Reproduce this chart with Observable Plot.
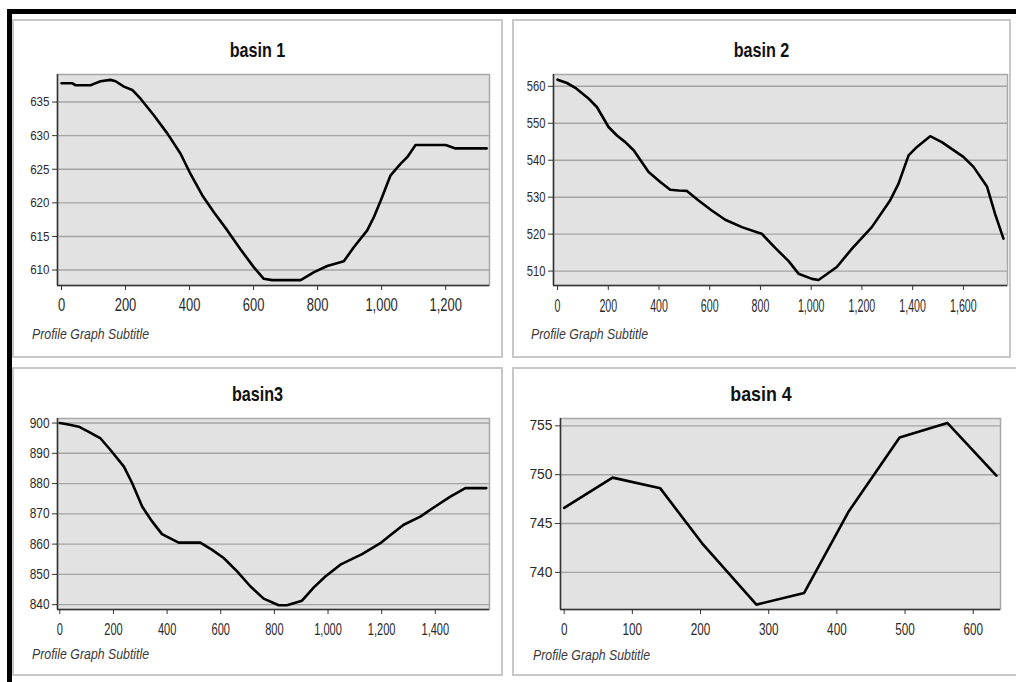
<!DOCTYPE html>
<html>
<head>
<meta charset="utf-8">
<script src="https://cdn.jsdelivr.net/npm/d3@7"></script>
<script src="https://cdn.jsdelivr.net/npm/@observablehq/plot@0.6"></script>
<style>
  html, body { margin: 0; padding: 0; background: #fff; }
  #root { position: relative; width: 1016px; height: 682px; overflow: hidden; background: #fff; }
  .bar { position: absolute; background: #000; }
  .frame { position: absolute; box-sizing: border-box; border: 2px solid #c8c8c8; background: #fff; }
  .title { position: absolute; text-align: center; font-family: "Liberation Sans", Arial, sans-serif;
           font-weight: bold; font-size: 21px; line-height: 21px; color: #111; white-space: nowrap; }
  .sub { position: absolute; font-family: "Liberation Sans", Arial, sans-serif; font-style: italic;
         font-size: 14px; line-height: 14px; color: #3a3a3a; white-space: nowrap; transform-origin: left center; transform: scaleX(0.88); }
  .chart { position: absolute; }
</style>
</head>
<body>
<div id="root">
  <div class="bar" style="left:7px;top:9px;width:1009px;height:5px"></div>
  <div class="bar" style="left:7px;top:9px;width:5px;height:673px"></div>
</div>
<script>
// ---- data (distance along profile, elevation) ----
const basin1Dist = [0,33,44,91,101,122,153,169,195,221,247,289,331,372,403,440,476,518,559,601,632,658,747,789,830,882,913,955,976,997,1028,1059,1080,1106,1200,1231,1328];
const basin1Elev = [637.8,637.8,637.5,637.5,637.7,638.1,638.3,638.1,637.3,636.8,635.5,633.0,630.3,627.3,624.3,621.1,618.6,615.9,613.1,610.4,608.7,608.5,608.5,609.7,610.6,611.3,613.4,615.9,617.9,620.3,624.1,625.8,626.8,628.6,628.6,628.1,628.1];

const basin2Dist = [0,37,70,122,155,201,234,267,300,359,405,444,477,510,556,608,661,727,792,805,858,911,950,1003,1029,1101,1160,1239,1311,1344,1384,1417,1469,1515,1600,1640,1693,1725,1758];
const basin2Elev = [561.8,560.9,559.6,556.7,554.4,549.0,546.7,544.9,542.7,536.8,534.1,532.0,531.8,531.7,529.1,526.4,523.9,521.9,520.4,520.1,516.3,512.7,509.3,507.9,507.6,511.1,516.0,521.9,529.1,533.6,541.3,543.6,546.5,544.9,540.9,538.2,532.9,525.5,518.8];

const basin3Dist = [0,27,71,108,152,189,239,270,307,344,381,443,524,568,611,661,711,760,816,847,903,947,990,1046,1127,1195,1232,1282,1344,1394,1456,1512,1590];
const basin3Elev = [900,899.6,898.8,897.1,894.9,891.1,885.6,880.1,872.4,867.5,863.3,860.5,860.5,858.1,855.4,851.0,846.0,842.0,839.8,839.8,841.3,845.7,849.3,853.2,856.7,860.3,862.9,866.4,869.1,872.1,875.7,878.5,878.5];

const basin4Dist = [0,71,141,202,282,352,417,492,562,634];
const basin4Elev = [746.6,749.7,748.6,743.0,736.7,737.9,746.2,753.8,755.3,749.9];

// ---- titles and tick labels ----
const titles = ["basin 1", "basin 2", "basin3", "basin 4"];
const subtitle = "Profile Graph Subtitle";
const basin1XTicks = [0,200,400,600,800,1000,1200];
const basin1YTicks = [610,615,620,625,630,635];
const basin2XTicks = [0,200,400,600,800,1000,1200,1400,1600];
const basin2YTicks = [510,520,530,540,550,560];
const basin3XTicks = [0,200,400,600,800,1000,1200,1400];
const basin3YTicks = [840,850,860,870,880,890,900];
const basin4XTicks = [0,100,200,300,400,500,600];
const basin4YTicks = [740,745,750,755];

const panels = [
  { title: titles[0], dist: basin1Dist, elev: basin1Elev, xTicks: basin1XTicks, yTicks: basin1YTicks,
    xDomain: [-12.5, 1337], yDomain: [607.7, 639.1],
    box: [12, 19, 491, 339], m: [55, 14, 73, 45],
    xfs: 18, xsx: 0.72, yfs: 13.5, ysx: 0.86, xpad: 8,
    titleBase: 57, subX: 32, subBase: 339, tsx: 0.77 },
  { title: titles[1], dist: basin2Dist, elev: basin2Elev, xTicks: basin2XTicks, yTicks: basin2YTicks,
    xDomain: [-16, 1774], yDomain: [506.1, 563.2],
    box: [512, 19, 499, 339], m: [55, 4, 73, 41],
    xfs: 19, xsx: 0.56, yfs: 14, ysx: 0.8, xpad: 8,
    titleBase: 57, subX: 531, subBase: 339, tsx: 0.77 },
  { title: titles[2], dist: basin3Dist, elev: basin3Elev, xTicks: basin3XTicks, yTicks: basin3YTicks,
    xDomain: [-8.6, 1602], yDomain: [838.4, 901.5],
    box: [12, 367, 491, 309], m: [51, 14, 67, 45],
    xfs: 17, xsx: 0.65, yfs: 14, ysx: 0.85, xpad: 8,
    titleBase: 401, subX: 32, subBase: 659, tsx: 0.77 },
  { title: titles[3], dist: basin4Dist, elev: basin4Elev, xTicks: basin4XTicks, yTicks: basin4YTicks,
    xDomain: [-5.4, 640], yDomain: [736.2, 755.75],
    box: [512, 367, 510, 309], m: [51, 16, 67, 48],
    xfs: 16.3, xsx: 0.72, yfs: 14.4, ysx: 0.96, xpad: 9,
    titleBase: 401, subX: 533, subBase: 660, tsx: 0.85 }
];

const root = document.getElementById("root");

function condense(svg, which, s) {
  svg.querySelectorAll(`[aria-label="${which}-axis tick label"] text`).forEach(t => {
    const tr = t.getAttribute("transform");
    if (tr) t.setAttribute("transform", tr + ` scale(${s},1)`);
    else {
      const x = +t.getAttribute("x") || 0, y = +t.getAttribute("y") || 0;
      t.setAttribute("transform", `translate(${x},${y}) scale(${s},1) translate(${-x},${-y})`);
    }
  });
}

for (const p of panels) {
  const [bx, by, bw, bh] = p.box;
  const fr = document.createElement("div");
  fr.className = "frame";
  Object.assign(fr.style, { left: bx + "px", top: by + "px", width: bw + "px", height: bh + "px" });
  root.appendChild(fr);

  const data = p.dist.map((d, i) => ({ d, e: p.elev[i] }));
  const svgW = Math.min(bw, 1016 - bx);
  const svg = Plot.plot({
    width: svgW,
    height: bh,
    marginTop: p.m[0], marginRight: p.m[1], marginBottom: p.m[2], marginLeft: p.m[3],
    style: { background: "transparent", color: "#2a2a2a", fontFamily: "'Liberation Sans', Arial, sans-serif", fontSize: "14px", overflow: "visible" },
    x: { domain: p.xDomain },
    y: { domain: p.yDomain },
    marks: [
      Plot.frame({ fill: "#e2e2e2", stroke: "#a8a8a8", strokeWidth: 1.5 }),
      Plot.gridY(p.yTicks, { stroke: "#a4a4a4", strokeOpacity: 1, strokeWidth: 1.4 }),
      Plot.ruleX([p.xDomain[0]], { stroke: "#333", strokeWidth: 1.5 }),
      Plot.ruleY([p.yDomain[0]], { stroke: "#333", strokeWidth: 1.5 }),
      Plot.line(data, { x: "d", y: "e", stroke: "#000", strokeWidth: 2.6, strokeLinejoin: "round", strokeLinecap: "round" }),
      Plot.axisX(p.xTicks, { tickFormat: d3.format(","), tickSize: 5, tickPadding: p.xpad, label: null, stroke: "#333", fill: "#2a2a2a", fontSize: p.xfs }),
      Plot.axisY(p.yTicks, { tickSize: 5, tickPadding: 3, label: null, stroke: "#333", fill: "#2a2a2a", fontSize: p.yfs })
    ]
  });
  svg.classList.add("chart");
  svg.style.left = bx + "px";
  svg.style.top = by + "px";
  svg.style.position = "absolute";
  condense(svg, "x", p.xsx);
  condense(svg, "y", p.ysx);
  root.appendChild(svg);

  const tt = document.createElement("div");
  tt.className = "title";
  tt.textContent = p.title;
  Object.assign(tt.style, { left: bx + "px", width: bw + "px", top: (p.titleBase - 17.8) + "px", transform: `scaleX(${p.tsx})` });
  if (bx + bw > 1016) { tt.style.width = (bw - 12) + "px"; }
  root.appendChild(tt);

  const st = document.createElement("div");
  st.className = "sub";
  st.textContent = subtitle;
  Object.assign(st.style, { left: p.subX + "px", top: (p.subBase - 11.8) + "px" });
  root.appendChild(st);
}
</script>
</body>
</html>
